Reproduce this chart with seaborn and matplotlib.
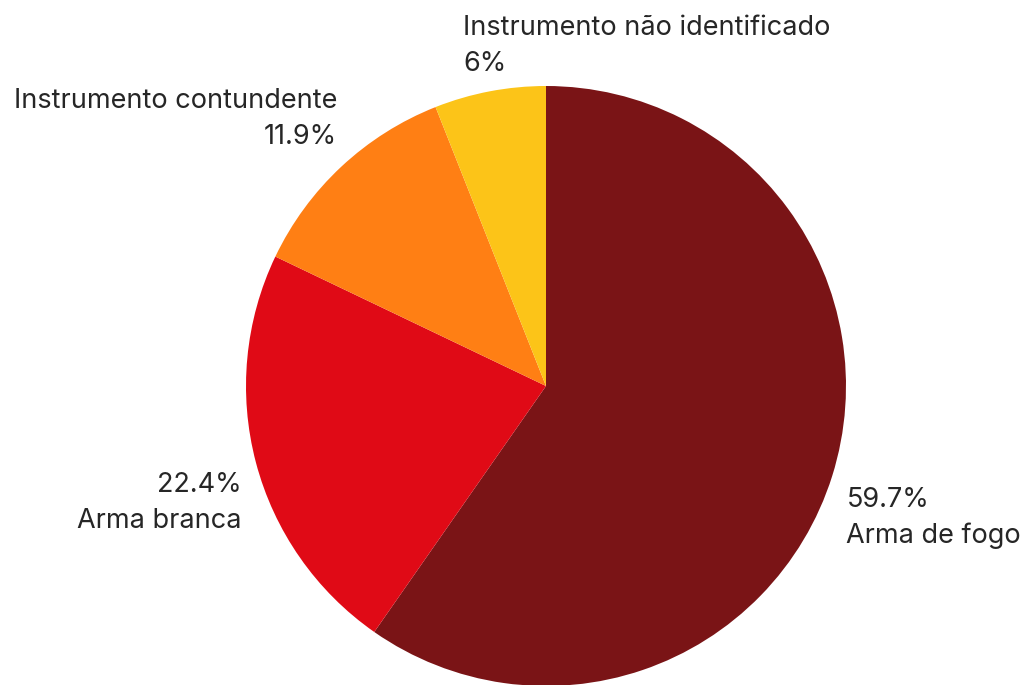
import numpy as np
import matplotlib.pyplot as plt
import seaborn as sns

categorias = ['Arma de fogo', 'Arma branca', 'Instrumento contundente', 'Instrumento não identificado']
valores = [59.7, 22.4, 11.9, 6.0]
rotulos_pct = ['59.7%', '22.4%', '11.9%', '6%']
cores = ['#7A1416', '#E00A16', '#FF7F14', '#FCC418']

sns.set_theme(style='white')
plt.rcParams['font.family'] = ['Inter', 'DejaVu Sans']

fig = plt.figure(figsize=(10.26, 6.85), dpi=100)
ax = fig.add_axes([0, 0, 1, 1])

wedges, _ = ax.pie(valores, colors=cores, startangle=90, counterclock=False,
                   radius=1, wedgeprops={'linewidth': 0})

# rótulos: nome + percentual, fora da pizza
for w, nome, pct in zip(wedges, categorias, rotulos_pct):
    ang = np.deg2rad((w.theta1 + w.theta2) / 2)
    x, y = 1.05 * np.cos(ang), 1.05 * np.sin(ang)
    ha = 'left' if np.cos(ang) > -0.3 else 'right'
    if np.sin(ang) > 0:
        texto, va = f'{nome}\n{pct}', 'bottom'
        x += 0.02
        if ha == 'right':
            y += 0.02
    else:
        texto, va = f'{pct}\n{nome}', 'top'
        y -= 0.02
    if ha == 'left' and np.sin(ang) > 0.9:
        x -= 0.1
    ax.text(x, y, texto, ha=ha, va=va, fontsize=19.5, color='#262626',
            linespacing=1.5, multialignment=ha)

ax.set_xlim(-546 / 300, 480 / 300)
ax.set_ylim(-299 / 300, 386 / 300)
ax.set_aspect('equal')
ax.axis('off')

plt.savefig('out.png', dpi=100)
